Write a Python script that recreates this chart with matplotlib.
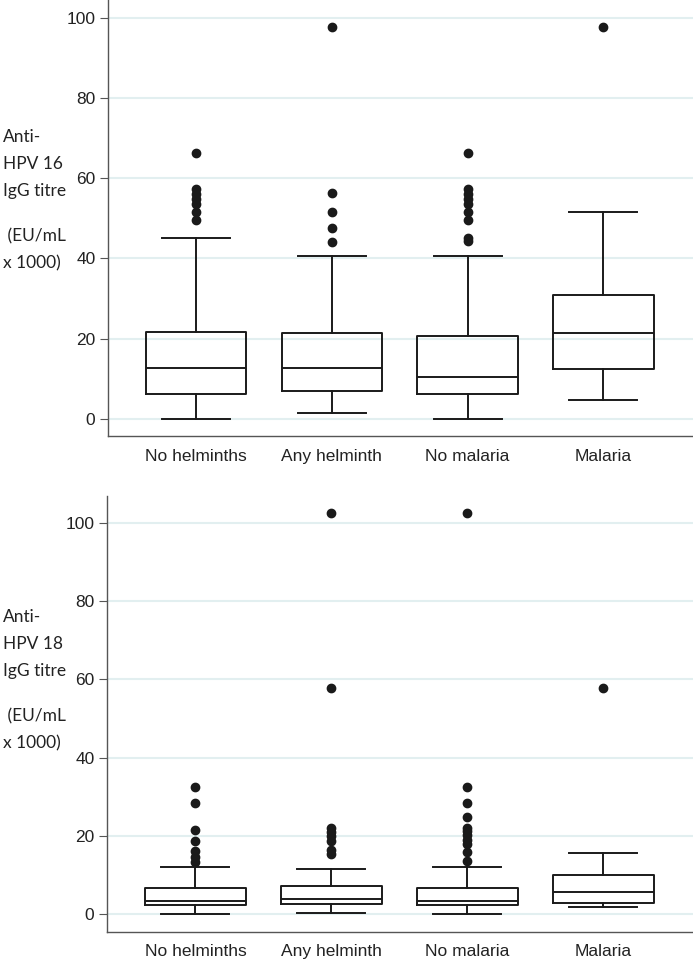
import matplotlib.pyplot as plt

groups = ["No helminths", "Any helminth", "No malaria", "Malaria"]

# HPV 16 box stats (EU/mL x 1000)
hpv16_low = [0.0, 1.5, 0.0, 4.6]
hpv16_q1 = [6.1, 6.9, 6.1, 12.5]
hpv16_med = [12.7, 12.7, 10.4, 21.4]
hpv16_q3 = [21.7, 21.5, 20.7, 30.8]
hpv16_high = [45.0, 40.5, 40.5, 51.5]
hpv16_out = [
    [49.6, 51.6, 53.6, 54.8, 56.0, 57.3, 66.3],
    [44.2, 47.6, 51.6, 56.4, 97.8],
    [44.3, 45.0, 49.6, 51.6, 53.6, 54.8, 56.0, 57.3, 66.3],
    [97.8],
]

# HPV 18 box stats
hpv18_low = [0.0, 0.35, 0.0, 1.7]
hpv18_q1 = [2.3, 2.55, 2.3, 2.8]
hpv18_med = [3.2, 3.75, 3.2, 5.5]
hpv18_q3 = [6.6, 7.1, 6.6, 10.0]
hpv18_high = [12.0, 11.5, 12.0, 15.6]
hpv18_out = [
    [13.4, 14.7, 16.0, 18.7, 21.4, 28.5, 32.6],
    [15.4, 16.4, 18.7, 20.0, 20.9, 22.1, 57.8, 102.6],
    [13.5, 15.8, 17.8, 19.0, 20.1, 21.1, 22.1, 24.8, 28.5, 32.6, 102.6],
    [57.8],
]

plt.rcParams['font.family'] = ['Liberation Sans', 'DejaVu Sans']

fig = plt.figure(figsize=(6.93, 9.61), dpi=100)


def make_stats(low, q1, med, q3, high, out):
    stats = []
    for i in range(len(groups)):
        stats.append(dict(whislo=low[i], q1=q1[i], med=med[i], q3=q3[i],
                          whishi=high[i], fliers=out[i], label=groups[i]))
    return stats


def draw(ax, stats, ylim, label_lines, label_y):
    line = dict(color='#1a1a1a', linewidth=1.4)
    ax.bxp(stats, positions=[1, 2, 3, 4], widths=0.74, capwidths=0.5,
           boxprops=line, medianprops=line, whiskerprops=line, capprops=line,
           flierprops=dict(marker='o', markerfacecolor='#1a1a1a',
                           markeredgecolor='#1a1a1a', markersize=6))
    ax.set_xlim(0.35, 4.66)
    ax.set_ylim(*ylim)
    ax.set_yticks([0, 20, 40, 60, 80, 100])
    ax.grid(axis='y', color='#e2eff0', linewidth=1.5)
    ax.set_axisbelow(True)
    for s in ['top', 'right']:
        ax.spines[s].set_visible(False)
    for s in ['left', 'bottom']:
        ax.spines[s].set_color('#555555')
        ax.spines[s].set_linewidth(1.0)
    ax.tick_params(axis='x', length=0, pad=9, labelsize=12.5, colors='#222222')
    ax.tick_params(axis='y', length=6, width=0.8, color='#555555', pad=3,
                   labelsize=12.5, labelcolor='#222222')
    y0 = label_y
    for i, t in enumerate(label_lines[:3]):
        fig.text(0.004, 1 - (y0 + 27 * i) / 961, t, family=['Lato', 'DejaVu Sans'],
                 fontsize=12.5, va='center', ha='left', color='#222222')
    for i, t in enumerate(label_lines[3:]):
        fig.text(0.004, 1 - (y0 + 99 + 27 * i) / 961, t, family=['Lato', 'DejaVu Sans'],
                 fontsize=12.5, va='center', ha='left', color='#222222')


ax1 = fig.add_axes([0.1558, 0.5463, 0.844, 0.4537])
draw(ax1, make_stats(hpv16_low, hpv16_q1, hpv16_med, hpv16_q3, hpv16_high, hpv16_out),
     (-4.3, 104.5), ["Anti-", "HPV 16", "IgG titre", " (EU/mL", "x 1000)"], 137)

ax2 = fig.add_axes([0.1544, 0.0302, 0.8456, 0.4537])
draw(ax2, make_stats(hpv18_low, hpv18_q1, hpv18_med, hpv18_q3, hpv18_high, hpv18_out),
     (-4.6, 106.9), ["Anti-", "HPV 18", "IgG titre", " (EU/mL", "x 1000)"], 617)

fig.savefig('out.png', dpi=100)
